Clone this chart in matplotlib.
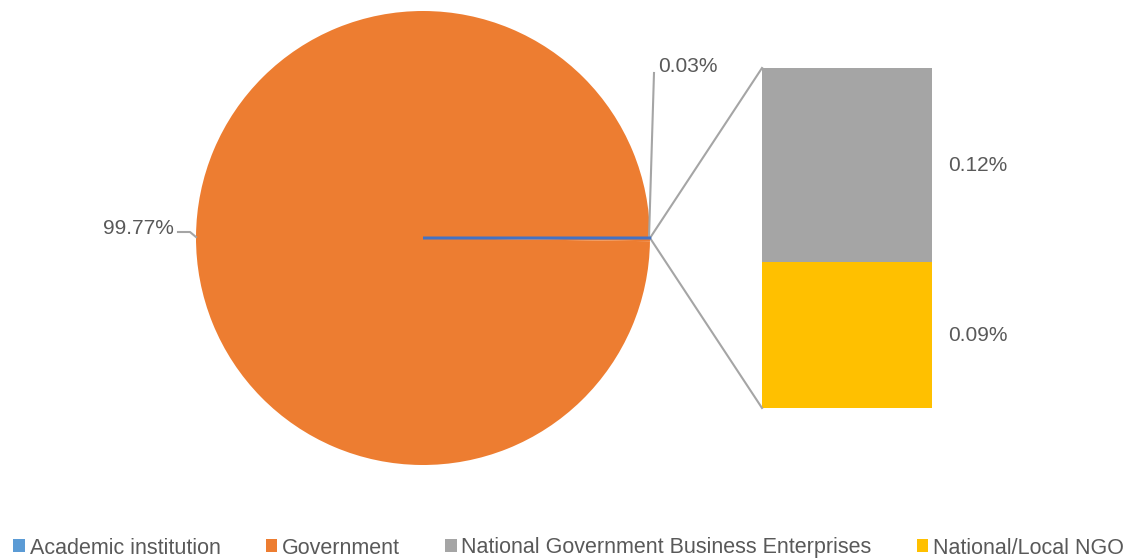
import matplotlib.pyplot as plt
from matplotlib.patches import Patch

plt.rcParams['font.family'] = ['Liberation Sans', 'DejaVu Sans']

categories = ['Academic institution', 'Government',
              'National Government Business Enterprises', 'National/Local NGO']
shares = [0.03, 99.77, 0.12, 0.09]
colors = ['#5B9BD5', '#ED7D31', '#A5A5A5', '#FFC000']
text_col = '#595959'
line_col = '#A5A5A5'

W, H = 1137, 558
fig = plt.figure(figsize=(W / 100, H / 100), dpi=100)
ax = fig.add_axes([0, 0, 1, 1])

# pie part: the two small categories are merged into one "other" slice
other = sum(shares[2:])
pie_vals = [shares[0], shares[1], other]
pie_cols = [colors[0], colors[1], colors[1]]
cx, cy, r = 423, H - 238, 227
start = -shares[0] / 100 * 360 / 2
wedges, _ = ax.pie(pie_vals, colors=pie_cols, startangle=start, counterclock=True,
                   center=(cx, cy), radius=r, frame=True,
                   wedgeprops=dict(linewidth=0))
wedges[0].set_edgecolor('#4472C4')
wedges[0].set_linewidth(1.8)
wedges[0].set_zorder(3)

# bar part: the merged slice split into its parts
bx, bw = 847, 170
bar_bottom, bar_h = H - 408, 340
scale = bar_h / other
bottom = bar_bottom
for val, col in [(shares[3], colors[3]), (shares[2], colors[2])]:
    ax.bar(bx, val * scale, width=bw, bottom=bottom, color=col, linewidth=0)
    ax.text(bx + bw / 2 + 16, bottom + val * scale / 2, f'{val:.2f}%',
            color=text_col, fontsize=15, ha='left', va='center')
    bottom += val * scale

# connectors from pie tip to bar corners
tip = (cx + r, cy)
ax.plot([tip[0], bx - bw / 2], [tip[1], bar_bottom + bar_h], color=line_col, lw=1.5)
ax.plot([tip[0], bx - bw / 2], [tip[1], bar_bottom], color=line_col, lw=1.5)

# data labels with leader lines
ax.plot([tip[0] - 1, tip[0] + 4], [cy, H - 73], color=line_col, lw=1.5)
ax.text(658, H - 67, f'{shares[0]:.2f}%', color=text_col, fontsize=15,
        ha='left', va='center')
ax.plot([178, 190, 196], [H - 232, H - 232, H - 237], color=line_col, lw=1.5)
ax.text(174, H - 228, f'{shares[1]:.2f}%', color=text_col, fontsize=15,
        ha='right', va='center')

ax.set_xlim(0, W)
ax.set_ylim(0, H)
ax.axis('off')

handles = [Patch(facecolor=c, edgecolor='none') for c in colors]
fig.legend(handles, categories, loc='center', bbox_to_anchor=(0.5, 1 - 548 / H),
           ncol=4, frameon=False, fontsize=15.5, labelcolor=text_col,
           handlelength=0.55, handleheight=0.55, handletextpad=0.2,
           columnspacing=2.1, borderpad=0, borderaxespad=0)

fig.savefig('out.png', dpi=100)
